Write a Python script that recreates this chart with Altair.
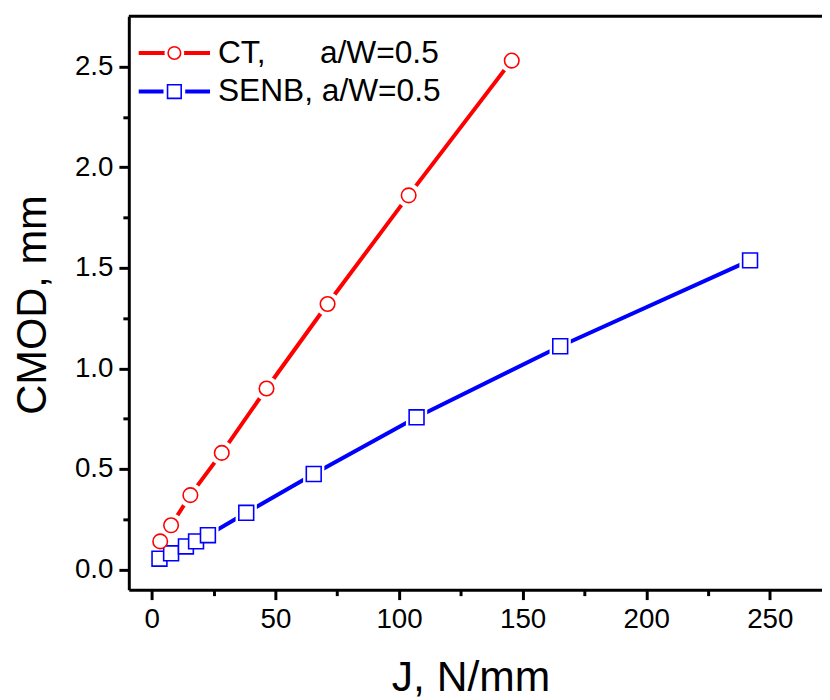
import altair as alt
import pandas as pd

# ---- data ----
ct_j = [3.4, 7.8, 15.6, 28.3, 46.4, 71.1, 103.9, 145.6]
ct_cmod = [0.14, 0.22, 0.37, 0.58, 0.90, 1.32, 1.86, 2.53]
senb_j = [3.1, 7.8, 13.8, 17.9, 22.7, 38.2, 65.5, 107.1, 165.2, 242.0]
senb_cmod = [0.054, 0.081, 0.115, 0.14, 0.171, 0.282, 0.475, 0.757, 1.11, 1.537]

x_major = [0, 50, 100, 150, 200, 250]
x_minor = [25, 75, 125, 175, 225]
y_major = [0.0, 0.5, 1.0, 1.5, 2.0, 2.5]
y_minor = [0.25, 0.75, 1.25, 1.75, 2.25]

legend_ct = ["CT,", "a/W=0.5"]
legend_senb = ["SENB, a/W=0.5"]

x_title = "J, N/mm"
y_title = "CMOD, mm"

FONT = "Liberation Sans"
RED = "#ff0000"
BLUE = "#0000ff"

ct = pd.DataFrame({"J": ct_j, "CMOD": ct_cmod})
senb = pd.DataFrame({"J": senb_j, "CMOD": senb_cmod})

xscale = alt.Scale(domain=[-9.3, 271.1], nice=False, zero=False)
yscale = alt.Scale(domain=[-0.1, 2.75], nice=False, zero=False)

x_main = alt.X(
    "J:Q", scale=xscale,
    axis=alt.Axis(
        orient="bottom", values=x_major, format="d", title=x_title,
        tickSize=10, tickWidth=3, domainWidth=3, labelPadding=6,
        labelFontSize=28, titleFontSize=43, titleFontWeight="normal",
        titleX=345, titleY=102, titleBaseline="alphabetic", titleAlign="center",
        grid=False,
    ),
)
y_main = alt.Y(
    "CMOD:Q", scale=yscale,
    axis=alt.Axis(
        orient="left", values=y_major, format=".1f", title=y_title,
        tickSize=10, tickWidth=3, domainWidth=3, labelPadding=6,
        labelFontSize=28, titleFontSize=42, titleFontWeight="normal",
        titleX=-97, titleY=291, titleAngle=-90, titleAlign="center",
        titleBaseline="middle", grid=False,
    ),
)
x_min = alt.X(
    "J:Q", scale=xscale,
    axis=alt.Axis(orient="bottom", values=x_minor, labels=False, domain=False,
                  title=None, tickSize=6, tickWidth=3, grid=False),
)
y_min = alt.Y(
    "CMOD:Q", scale=yscale,
    axis=alt.Axis(orient="left", values=y_minor, labels=False, domain=False,
                  title=None, tickSize=6, tickWidth=3, grid=False),
)

ct_line = alt.Chart(ct).mark_line(color=RED, strokeWidth=4).encode(x=x_main, y=y_main)
senb_line = alt.Chart(senb).mark_line(color=BLUE, strokeWidth=4).encode(
    x=alt.X("J:Q", scale=xscale, axis=None), y=alt.Y("CMOD:Q", scale=yscale, axis=None))

ct_mask = alt.Chart(ct).mark_circle(color="white", opacity=1, size=600).encode(x=x_min, y=y_min)
senb_mask = alt.Chart(senb).mark_square(color="white", opacity=1, size=460).encode(
    x=alt.X("J:Q", scale=xscale, axis=None), y=alt.Y("CMOD:Q", scale=yscale, axis=None))

xs = alt.X("J:Q", scale=xscale, axis=None)
ys = alt.Y("CMOD:Q", scale=yscale, axis=None)
senb_pts = alt.Chart(senb).mark_square(fill="white", stroke=BLUE, strokeWidth=1.6,
                                        opacity=1, size=225).encode(x=xs, y=ys)
ct_pts = alt.Chart(ct).mark_circle(fill="white", stroke=RED, strokeWidth=1.6,
                                    opacity=1, size=215).encode(x=xs, y=ys)

# top frame line
top_frame = alt.Chart(pd.DataFrame({"a": [0]})).mark_rule(color="black", strokeWidth=3).encode(
    x=alt.value(0), x2=alt.value(700), y=alt.value(0))

# ---- manual legend ----
row1_y, row2_y = 37, 76
lg1 = pd.DataFrame({"t": [legend_ct[0]]})
lg1b = pd.DataFrame({"t": [legend_ct[1]]})
lg2 = pd.DataFrame({"t": [legend_senb[0]]})

def legend_row(df, color, shape, y, mask_size, pt_size):
    base = alt.Chart(df)
    rule = base.mark_rule(color=color, strokeWidth=4).encode(
        x=alt.value(10), x2=alt.value(82), y=alt.value(y))
    mask = base.mark_point(shape=shape, filled=True, color="white", opacity=1,
                           size=mask_size).encode(x=alt.value(46), y=alt.value(y))
    pt = base.mark_point(shape=shape, filled=True, fill="white", stroke=color,
                         strokeWidth=1.6, opacity=1, size=pt_size).encode(
        x=alt.value(46), y=alt.value(y))
    return rule + mask + pt

leg_ct = legend_row(lg1, RED, "circle", row1_y, 400, 160)
leg_senb = legend_row(lg2, BLUE, "square", row2_y, 480, 190)

txt_kw = dict(font=FONT, fontSize=32, align="left", baseline="middle", color="black")
t1 = alt.Chart(lg1).mark_text(**txt_kw).encode(text="t:N", x=alt.value(90), y=alt.value(row1_y))
t1b = alt.Chart(lg1b).mark_text(**txt_kw).encode(text="t:N", x=alt.value(193), y=alt.value(row1_y))
t2 = alt.Chart(lg2).mark_text(**txt_kw).encode(text="t:N", x=alt.value(90), y=alt.value(row2_y))

chart = alt.layer(
    ct_line, senb_line, ct_mask, senb_mask, senb_pts, ct_pts, top_frame,
    leg_ct, leg_senb, t1, t1b, t2,
).resolve_axis(x="independent", y="independent").properties(
    width=700, height=579,
    autosize=alt.AutoSizeParams(type="none"),
    padding={"left": 122, "top": 5, "right": 0, "bottom": 108},
).configure_view(stroke=None).configure_axis(
    labelFont=FONT, titleFont=FONT, labelColor="black", titleColor="black",
    domainColor="black", tickColor="black",
)

chart.save("out.html", embed_options={"renderer": "svg", "actions": False})
